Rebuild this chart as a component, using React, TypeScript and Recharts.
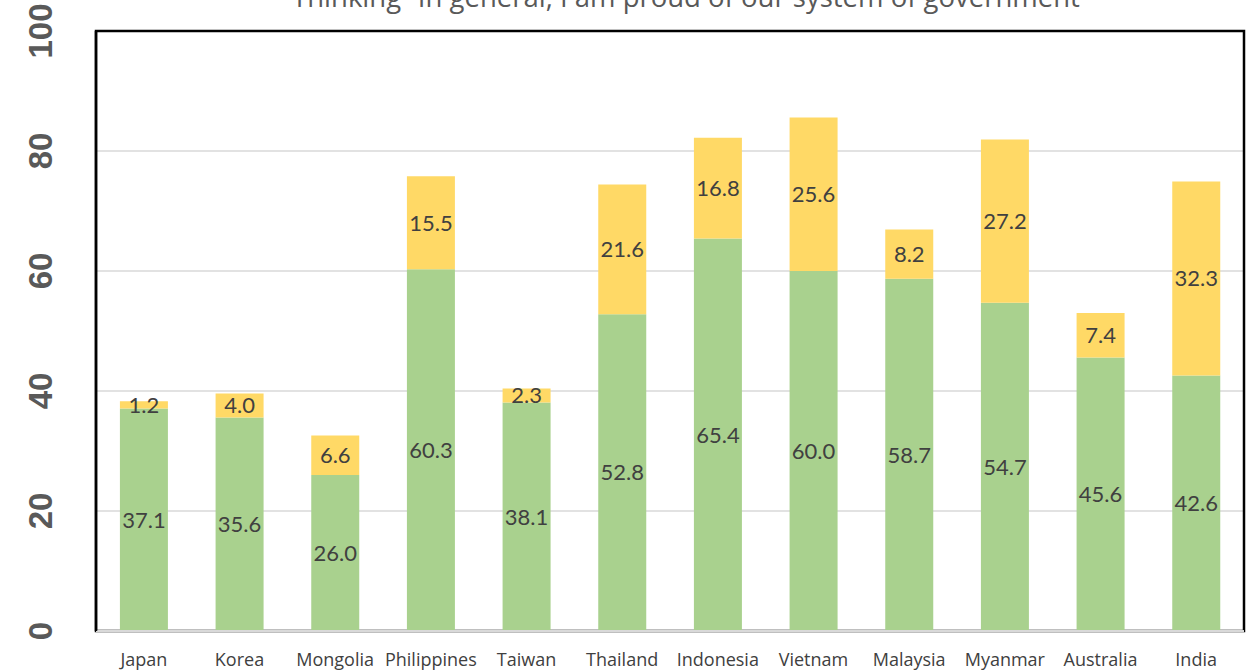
import React from "react";
import { BarChart, Bar, XAxis, YAxis, CartesianGrid, LabelList, ReferenceArea, ReferenceLine } from "recharts";

const countries = ["Japan", "Korea", "Mongolia", "Philippines", "Taiwan", "Thailand", "Indonesia", "Vietnam", "Malaysia", "Myanmar", "Australia", "India"];
const proudGreen = [37.1, 35.6, 26.0, 60.3, 38.1, 52.8, 65.4, 60.0, 58.7, 54.7, 45.6, 42.6];
const proudYellow = [1.2, 4.0, 6.6, 15.5, 2.3, 21.6, 16.8, 25.6, 8.2, 27.2, 7.4, 32.3];
const yTicks = [0, 20, 40, 60, 80, 100];
const title = "Thinking \u201cIn general, I am proud of our system of government";

const data = countries.map((c, i) => ({ name: c, green: proudGreen[i], yellow: proudYellow[i] }));

const YTick = (props: any) => {
  const { x, y, payload } = props;
  const bx = x - 36;
  return (
    <text x={bx} y={y} transform={`rotate(-90, ${bx}, ${y})`} textAnchor="middle"
      fill="#595959" fontFamily="Liberation Sans" fontWeight="bold" fontSize={33}>
      {payload.value}
    </text>
  );
};

const fmt = (v: any) => Number(v).toFixed(1);

export default function App() {
  return (
    <div style={{ position: "absolute", left: 0, top: 0, width: 1246, height: 672, background: "#fff" }}>
      <BarChart width={1246} height={672} data={data} margin={{ top: 31, right: 2, left: 0, bottom: 0 }} barCategoryGap="25%">
        <CartesianGrid vertical={false} stroke="#D9D9D9" strokeWidth={1.5} />
        <ReferenceArea y1={0} y2={100} fill="none" stroke="#000" strokeWidth={2.5} fillOpacity={0} />
        <ReferenceLine y={0} stroke="#D9D9D9" strokeWidth={2} />
        <XAxis dataKey="name" height={41} tickLine={false} axisLine={{ stroke: "#D9D9D9", strokeWidth: 2 }}
          tickMargin={16} tick={{ fill: "#404040", fontSize: 18, fontFamily: "Open Sans" }} interval={0} />
        <YAxis domain={[0, 100]} ticks={yTicks} width={96} tickLine={false} tick={<YTick />}
          axisLine={{ stroke: "#000", strokeWidth: 2.5 }} interval={0} />
        <Bar dataKey="green" stackId="a" fill="#A9D18E" isAnimationActive={false}>
          <LabelList dataKey="green" position="center" formatter={fmt} fill="#404040" fontSize={22} fontFamily="Lato" />
        </Bar>
        <Bar dataKey="yellow" stackId="a" fill="#FFD966" isAnimationActive={false}>
          <LabelList dataKey="yellow" position="center" formatter={fmt} fill="#404040" fontSize={22} fontFamily="Lato" />
        </Bar>
      </BarChart>
      <svg width={1246} height={40} style={{ position: "absolute", left: 0, top: 0, pointerEvents: "none" }}>
        <text x={686} y={7} textAnchor="middle" fill="#595959" fontSize={27.5} fontFamily="Open Sans">{title}</text>
      </svg>
    </div>
  );
}
